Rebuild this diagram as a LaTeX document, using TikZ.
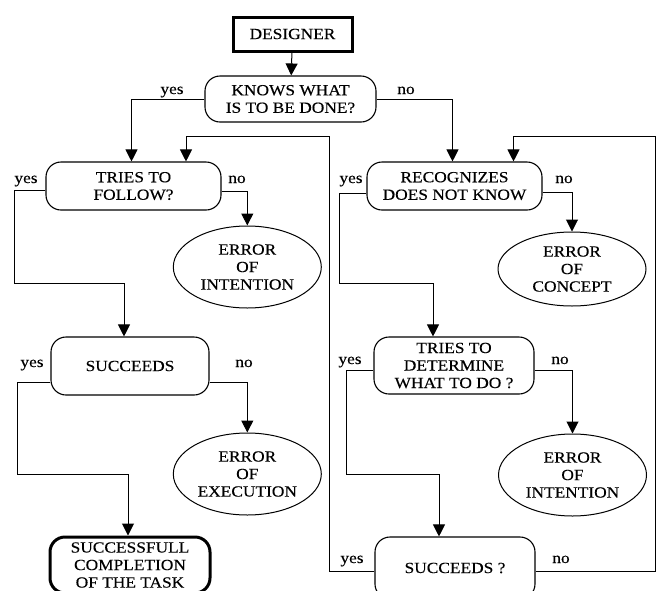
\documentclass[tikz,border=0pt]{standalone}
\usepackage{fontspec}
\setmainfont{Liberation Serif}[FakeStretch=1.12,FakeBold=0.3]
\usetikzlibrary{arrows.meta,shapes.geometric}
\begin{document}
\begin{tikzpicture}[x=1pt,y=-1pt,
  every node/.style={font=\fontsize{15.5}{17.5}\selectfont, align=center, inner sep=0pt},
  box/.style={draw, rounded corners=15pt, line width=1.1pt},
  termbox/.style={draw, line width=3pt},
  ell/.style={draw, ellipse, line width=1pt, minimum width=148pt, minimum height=82pt},
  lbl/.style={anchor=base},
  conn/.style={line width=1pt},
  arr/.style={conn, -{Triangle[length=12pt,width=12pt]}},
]
\useasboundingbox (0,0) rectangle (657,590);
\clip (0,0) rectangle (657,590);

% nodes
\node[termbox, minimum width=119pt, minimum height=34pt] (designer) at (292.5,34) {DESIGNER};
\node[box, minimum width=171pt, minimum height=46pt] (know) at (290.5,99) {KNOWS WHAT\\IS TO BE DONE?};
\node[box, minimum width=175pt, minimum height=48pt] (tries) at (133.5,186) {TRIES TO\\FOLLOW?};
\node[box, minimum width=175pt, minimum height=48pt] (recog) at (454.5,186) {RECOGNIZES\\DOES NOT KNOW};
\node[ell] (errI1) at (247.3,267) {ERROR\\OF\\INTENTION};
\node[ell, minimum height=74pt] (errC) at (572,269) {ERROR\\OF\\CONCEPT};
\node[box, minimum width=158pt, minimum height=58pt] (succL) at (130,366) {SUCCEEDS};
\node[box, minimum width=160pt, minimum height=57pt] (det) at (454,365.5) {TRIES TO\\DETERMINE\\WHAT TO DO ?};
\node[ell] (errE) at (247.3,474) {ERROR\\OF\\EXECUTION};
\node[ell] (errI2) at (572.5,475) {ERROR\\OF\\INTENTION};
\node[termbox, rounded corners=15pt, minimum width=160pt, minimum height=56pt] (done) at (130,565) {SUCCESSFULL\\COMPLETION\\OF THE TASK};
\node[box, minimum width=160pt, minimum height=62pt] (succR) at (455,568) {SUCCEEDS ?};

% labels
\node[lbl] (yK) at (172,94) {yes};
\node[lbl] (nK) at (406,94) {no};
\node[lbl] (yT) at (26,183) {yes};
\node[lbl] (nT) at (237,183) {no};
\node[lbl] (yR) at (351,183) {yes};
\node[lbl] (nR) at (564,183) {no};
\node[lbl] (yS) at (32,367) {yes};
\node[lbl] (nS) at (244,367) {no};
\node[lbl] (yD) at (350,364) {yes};
\node[lbl] (nD) at (560,364) {no};
\node[lbl] (yQ) at (352,563) {yes};
\node[lbl] (nQ) at (561,563) {no};

% connectors
\draw[arr] (designer) -- (know);
\draw[arr] (know.west) -| ([xshift=-2pt]tries.north);
\draw[arr] (know.east) -| ([xshift=-2pt]recog.north);

\draw[arr] ([yshift=-4pt]tries.west) -| (14.7,283) -| ([xshift=-6pt]succL.north);
\draw[arr] ([yshift=-5pt]tries.east) -| (errI1.north);

\draw[arr] ([yshift=-7pt]recog.west) -| (339.6,283) -| ([xshift=-21pt]det.north);
\draw[arr] ([yshift=-6pt]recog.east) -| (errC.north);

\draw[arr] ([yshift=-16pt]succL.west) -| (17.6,474) -| ([xshift=-2pt]done.north);
\draw[arr] ([yshift=-16pt]succL.east) -| (errE.north);

\draw[arr] ([yshift=-4.5pt]det.west) -| (346.8,474) -| ([xshift=-16pt]succR.north);
\draw[arr] ([yshift=-4.5pt]det.east) -| (errI2.north);

\draw[arr] ([yshift=-3pt]succR.west) -| (329,136) -| ([xshift=52.5pt]tries.north);
\draw[arr] ([yshift=-3.5pt]succR.east) -| (655.5,136) -| ([xshift=59pt]recog.north);
\end{tikzpicture}
\end{document}
